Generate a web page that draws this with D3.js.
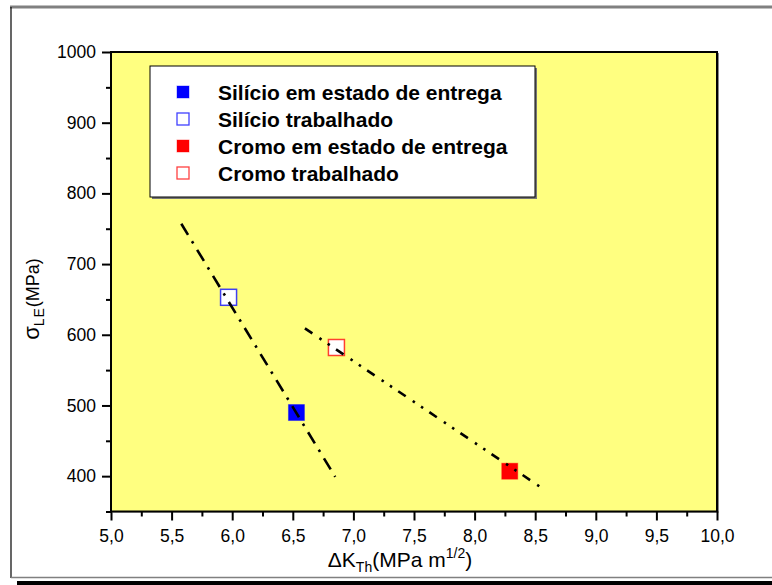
<!DOCTYPE html>
<html>
<head>
<meta charset="utf-8">
<script src="https://cdn.jsdelivr.net/npm/d3@7"></script>
<style>
  html, body { margin: 0; padding: 0; background: #fff; }
  svg { display: block; font-family: "Liberation Sans", Arial, sans-serif; }
</style>
</head>
<body>
<svg id="chart" width="772" height="585"></svg>
<script>
// Fracture threshold vs. yield strength for two steels
const seriesNames = ["Silício em estado de entrega", "Silício trabalhado", "Cromo em estado de entrega", "Cromo trabalhado"];
const seriesColors = ["#0000ff", "#0000ff", "#ff0000", "#ff0000"];
const seriesFilled = [true, false, true, false];
const dkValues = [6.53, 5.97, 8.29, 6.86];
const sigmaValues = [490, 653, 407, 582];

// trend lines through each steel's pair of points
const siFitX = [5.58, 6.85];
const siFitY = [757, 399];
const crFitX = [6.60, 8.54];
const crFitY = [609, 385];

const xMajorTicks = [5.0, 5.5, 6.0, 6.5, 7.0, 7.5, 8.0, 8.5, 9.0, 9.5, 10.0];
const xMinorTicks = [5.25, 5.75, 6.25, 6.75, 7.25, 7.75, 8.25, 8.75, 9.25, 9.75];
const yMajorTicks = [400, 500, 600, 700, 800, 900, 1000];
const yMinorTicks = [350, 450, 550, 650, 750, 850, 950];

const svg = d3.select("#chart");
const plot = { left: 111, top: 52, right: 717, bottom: 511.5 };

const x = d3.scaleLinear().domain([5, 10]).range([plot.left, plot.right]);
const y = d3.scaleLinear().domain([350, 1000]).range([plot.bottom, plot.top]);

// outer frame
svg.append("line").attr("x1", 10).attr("x2", 772).attr("y1", 7).attr("y2", 7)
  .attr("stroke", "#808080").attr("stroke-width", 3);
svg.append("line").attr("x1", 11).attr("x2", 11).attr("y1", 7).attr("y2", 578)
  .attr("stroke", "#000").attr("stroke-width", 1.2);
svg.append("line").attr("x1", 11).attr("x2", 772).attr("y1", 577.5).attr("y2", 577.5)
  .attr("stroke", "#808080").attr("stroke-width", 1.5);
svg.append("rect").attr("x", 17).attr("y", 581).attr("width", 755).attr("height", 4)
  .attr("fill", "#000");

// plot background
svg.append("rect")
  .attr("x", plot.left + 2).attr("y", plot.top + 1)
  .attr("width", plot.right - plot.left).attr("height", plot.bottom - plot.top)
  .attr("fill", "#888");
svg.append("rect")
  .attr("x", plot.left).attr("y", plot.top)
  .attr("width", plot.right - plot.left).attr("height", plot.bottom - plot.top)
  .attr("fill", "#ffff80");

const fmt = d => d3.format(".1f")(d).replace(".", ",");

// axes
const gx = svg.append("g").attr("transform", `translate(0,${plot.bottom})`);
gx.call(d3.axisBottom(x).tickValues(xMajorTicks).tickSize(9).tickPadding(9.5).tickFormat(fmt));
const gxm = svg.append("g").attr("transform", `translate(0,${plot.bottom})`);
gxm.call(d3.axisBottom(x).tickValues(xMinorTicks).tickSize(5).tickFormat(""));

const gy = svg.append("g").attr("transform", `translate(${plot.left},0)`);
gy.call(d3.axisLeft(y).tickValues(yMajorTicks).tickSize(9).tickPadding(6).tickFormat(d3.format("d")));
const gym = svg.append("g").attr("transform", `translate(${plot.left},0)`);
gym.call(d3.axisLeft(y).tickValues(yMinorTicks).tickSize(5).tickFormat(""));

svg.selectAll(".domain").remove();
svg.selectAll(".tick line").attr("stroke", "#000").attr("stroke-width", 2);
svg.selectAll(".tick text").attr("fill", "#000").attr("font-size", 17.5)
  .attr("font-family", "'Liberation Sans', Arial, sans-serif");

// markers
const markers = svg.append("g");
seriesNames.forEach((name, i) => {
  const s = 16;
  markers.append("rect")
    .attr("x", x(dkValues[i]) - s / 2).attr("y", y(sigmaValues[i]) - s / 2)
    .attr("width", s).attr("height", s)
    .attr("fill", seriesFilled[i] ? seriesColors[i] : "#fff")
    .attr("stroke", seriesColors[i])
    .attr("stroke-opacity", seriesFilled[i] ? 0.4 : 0.75)
    .attr("stroke-width", seriesFilled[i] ? 1 : 1.5);
});

// trend lines
const line = d3.line().x(d => x(d[0])).y(d => y(d[1]));
svg.append("path")
  .datum(d3.zip(siFitX, siFitY))
  .attr("d", line).attr("fill", "none")
  .attr("stroke", "#000").attr("stroke-width", 2.6)
  .attr("stroke-dasharray", "13,7.5,2.5,7.5");
svg.append("path")
  .datum(d3.zip(crFitX, crFitY))
  .attr("d", line).attr("fill", "none")
  .attr("stroke", "#000").attr("stroke-width", 2.6)
  .attr("stroke-dasharray", "9,8.5,2.5,7.5,2.5,7.5");

// plot border
svg.append("rect")
  .attr("x", plot.left).attr("y", plot.top)
  .attr("width", plot.right - plot.left).attr("height", plot.bottom - plot.top)
  .attr("fill", "none").attr("stroke", "#000").attr("stroke-width", 2);

// legend
const lg = svg.append("g");
lg.append("rect").attr("x", 152).attr("y", 68).attr("width", 385).attr("height", 131).attr("fill", "#777");
lg.append("rect").attr("x", 150).attr("y", 66).attr("width", 385).attr("height", 131)
  .attr("fill", "#fff").attr("stroke", "#000").attr("stroke-width", 1);
const rowY = [92, 119, 146, 173];
seriesNames.forEach((name, i) => {
  const s = 12;
  lg.append("rect")
    .attr("x", 183 - s / 2).attr("y", rowY[i] - s / 2).attr("width", s).attr("height", s)
    .attr("fill", seriesFilled[i] ? seriesColors[i] : "#fff")
    .attr("stroke", seriesColors[i])
    .attr("stroke-opacity", seriesFilled[i] ? 0.4 : 0.75)
    .attr("stroke-width", seriesFilled[i] ? 1 : 1.3);
  lg.append("text")
    .attr("x", 218).attr("y", rowY[i]).attr("dy", "0.36em")
    .attr("font-size", 21).attr("font-weight", "bold").attr("fill", "#000")
    .text(name);
});

// axis titles
const xt = svg.append("text")
  .attr("x", 400).attr("y", 567).attr("text-anchor", "middle")
  .attr("font-size", 21).attr("fill", "#000");
xt.append("tspan").text("ΔK");
xt.append("tspan").attr("font-size", 14).attr("dy", 5).text("Th");
xt.append("tspan").attr("dy", -5).text("(MPa m");
xt.append("tspan").attr("font-size", 14).attr("dy", -9).text("1/2");
xt.append("tspan").attr("dy", 9).text(")");

const yt = svg.append("text")
  .attr("transform", "translate(38.5,299) rotate(-90)")
  .attr("text-anchor", "middle")
  .attr("font-size", 18).attr("fill", "#000");
yt.append("tspan").attr("font-size", 22).text("σ");
yt.append("tspan").attr("font-size", 14).attr("letter-spacing", 1).attr("dy", 5).text("LE");
yt.append("tspan").attr("letter-spacing", 0).attr("dy", -5).text("(MPa)");
</script>
</body>
</html>
